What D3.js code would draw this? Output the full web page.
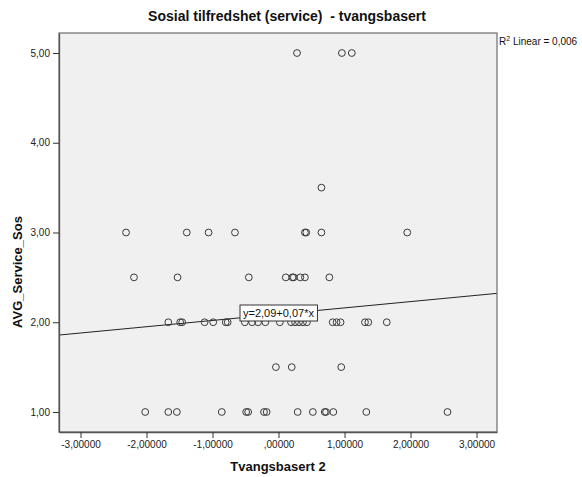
<!DOCTYPE html>
<html>
<head>
<meta charset="utf-8">
<script src="https://cdn.jsdelivr.net/npm/d3@7"></script>
<style>
  body { margin: 0; background: #fff; }
  svg { display: block; font-family: "Liberation Sans", Arial, sans-serif; }
</style>
</head>
<body>
<svg id="chart" width="582" height="477"></svg>
<script>
// Data
const xValues = [
  0.28, 0.96, 1.11,
  0.65,
  -2.31, -1.39, -1.06, -0.66, 0.40, 0.42, 0.65, 1.95,
  -2.19, -1.53, -0.45, 0.11, 0.21, 0.23, 0.33, 0.40, 0.77,
  -1.67, -1.49, -1.46, -1.12, -0.99, -0.80, -0.77, -0.51, -0.40, -0.31, -0.20, 0.02, 0.19, 0.25, 0.31, 0.37, 0.43, 0.82, 0.88, 0.94, 1.31, 1.36, 1.64,
  -0.04, 0.20, 0.95,
  -2.02, -1.67, -1.54, -0.86, -0.49, -0.46, -0.22, -0.18, 0.29, 0.52, 0.70, 0.72, 0.83, 1.33, 2.56
];
const yValues = [
  5, 5, 5,
  3.5,
  3, 3, 3, 3, 3, 3, 3, 3,
  2.5, 2.5, 2.5, 2.5, 2.5, 2.5, 2.5, 2.5, 2.5,
  2, 2, 2, 2, 2, 2, 2, 2, 2, 2, 2, 2, 2, 2, 2, 2, 2, 2, 2, 2, 2, 2, 2,
  1.5, 1.5, 1.5,
  1, 1, 1, 1, 1, 1, 1, 1, 1, 1, 1, 1, 1, 1, 1
];
const xTicks = [-3, -2, -1, 0, 1, 2, 3];
const yTicks = [1, 2, 3, 4, 5];
const fitIntercept = 2.09;
const fitSlope = 0.07;
const rSquared = "0,006";
const titleText = "Sosial tilfredshet (service)  - tvangsbasert";
const xLabel = "Tvangsbasert 2";
const yLabel = "AVG_Service_Sos";

const svg = d3.select("#chart");
const L = 59, R = 497, T = 33, B = 432;

const x = d3.scaleLinear().domain([-3.326, 3.31]).range([L, R]);
const y = d3.scaleLinear().domain([0.777, 5.223]).range([B, T]);

const fmtX = v => (v === 0 ? ",00000" : d3.format(".5f")(v).replace("−", "-").replace(".", ","));
const fmtY = v => d3.format(".2f")(v).replace(".", ",");

// plot background
svg.append("rect").attr("x", L).attr("y", T).attr("width", R - L).attr("height", B - T)
  .attr("fill", "#f0f0f0").attr("stroke", "none");

// clip for points & line
svg.append("clipPath").attr("id", "clip").append("rect")
  .attr("x", L).attr("y", T).attr("width", R - L).attr("height", B - T);

const g = svg.append("g").attr("clip-path", "url(#clip)");

// regression line
const xd = x.domain();
g.append("line")
  .attr("x1", x(xd[0])).attr("y1", y(fitIntercept + fitSlope * xd[0]))
  .attr("x2", x(xd[1])).attr("y2", y(fitIntercept + fitSlope * xd[1]))
  .attr("stroke", "#222").attr("stroke-width", 1);

// points
g.selectAll("circle").data(xValues.map((v, i) => [v, yValues[i]])).join("circle")
  .attr("cx", d => x(d[0])).attr("cy", d => y(d[1])).attr("r", 3.4)
  .attr("fill", "none").attr("stroke", "#3a3a3a").attr("stroke-width", 1);

// border
svg.append("rect").attr("x", L).attr("y", T).attr("width", R - L).attr("height", B - T)
  .attr("fill", "none").attr("stroke", "#777").attr("stroke-width", 1.3);

// axes
const xAxis = d3.axisBottom(x).tickValues(xTicks).tickFormat(fmtX).tickSize(6).tickSizeOuter(0).tickPadding(3);
const gx = svg.append("g").attr("transform", `translate(0,${B})`).call(xAxis);
const yAxis = d3.axisLeft(y).tickValues(yTicks).tickFormat(fmtY).tickSize(6).tickSizeOuter(0).tickPadding(3);
const gy = svg.append("g").attr("transform", `translate(${L},0)`).call(yAxis);
[gx, gy].forEach(a => {
  a.select(".domain").attr("stroke", "#555").attr("stroke-width", 1.3);
  a.selectAll(".tick line").attr("stroke", "#333");
  a.selectAll(".tick text").attr("fill", "#222").style("font-size", "10px")
    .style("font-family", "'Liberation Sans', Arial, sans-serif");
});

// equation box
const eqX = 240, eqY = 305;
const eq = svg.append("g");
const eqText = eq.append("text").attr("x", eqX + 3).attr("y", eqY + 12)
  .style("font-size", "11px").attr("fill", "#111").text("y=2,09+0,07*x");
const bb = eqText.node().getBBox();
eq.insert("rect", "text").attr("x", eqX).attr("y", eqY)
  .attr("width", bb.width + 6).attr("height", 16)
  .attr("fill", "#fff").attr("stroke", "#333").attr("stroke-width", 1);

// R² label
const rt = svg.append("text").attr("x", 499).attr("y", 45).style("font-size", "10px").attr("fill", "#111");
rt.append("tspan").text("R");
rt.append("tspan").attr("dy", -4).style("font-size", "7px").text("2");
rt.append("tspan").attr("dy", 4).text(" Linear = " + rSquared);

// title (preserve double space)
svg.append("text").attr("x", 287).attr("y", 21).attr("text-anchor", "middle")
  .style("white-space", "pre")
  .style("font-size", "14px").style("font-weight", "bold").attr("fill", "#111").text(titleText);

// axis titles
svg.append("text").attr("x", 278).attr("y", 471).attr("text-anchor", "middle")
  .style("font-size", "13px").style("font-weight", "bold").attr("fill", "#111").text(xLabel);
svg.append("text").attr("transform", "translate(22,272) rotate(-90)").attr("text-anchor", "middle")
  .style("font-size", "13px").style("font-weight", "bold").attr("fill", "#111").text(yLabel);
</script>
</body>
</html>
